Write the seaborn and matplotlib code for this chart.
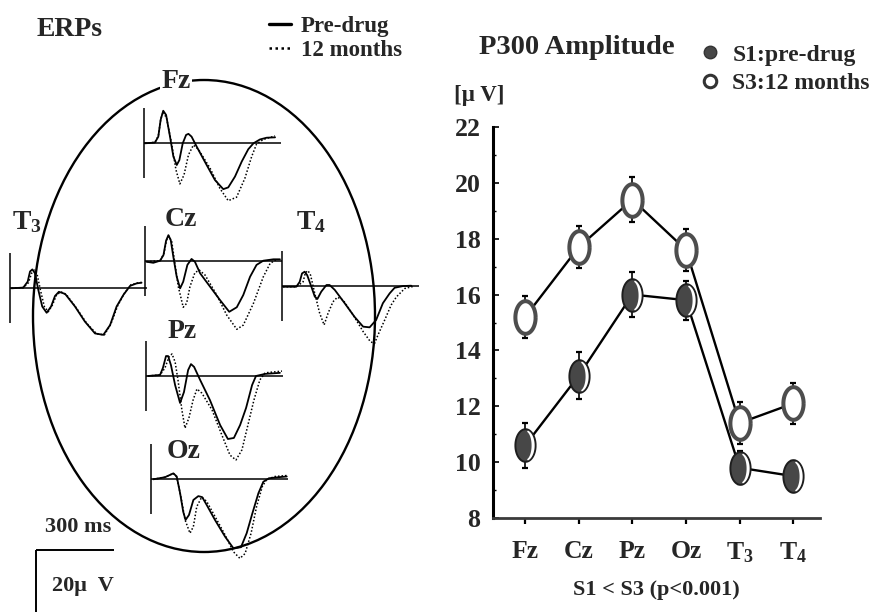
import numpy as np
import pandas as pd
import matplotlib
matplotlib.use("Agg")
import matplotlib.pyplot as plt
from matplotlib.path import Path
from matplotlib.patches import Ellipse
from matplotlib.lines import Line2D
import seaborn as sns

sns.set_theme(style="white")
plt.rcParams["font.family"] = ["Liberation Serif", "DejaVu Serif"]
plt.rcParams["font.weight"] = "bold"
plt.rcParams["mathtext.fontset"] = "custom"
plt.rcParams["mathtext.rm"] = "Liberation Serif:bold"
plt.rcParams["mathtext.it"] = "Liberation Serif:bold"
plt.rcParams["mathtext.bf"] = "Liberation Serif:bold"

# ---------------- P300 amplitude (group means, uV) ----------------
sites = ["Fz", "Cz", "Pz", "Oz", "T3", "T4"]
site_labels = ["Fz", "Cz", "Pz", "Oz", "T$_3$", "T$_4$"]
amp_pre = [10.6, 13.1, 16.0, 15.8, 9.8, 9.5]
sem_pre = [0.8, 0.85, 0.8, 0.7, 0.6, 0.55]
amp_12m = [15.2, 17.7, 19.4, 17.6, 11.4, 12.1]
sem_12m = [0.75, 0.75, 0.8, 0.75, 0.75, 0.75]

# ---------------- grand-average ERP waveforms (ms, uV; negative up) ----------------
fz_pre_ms = [4, 42, 55, 64, 74, 85, 100, 113, 126, 136, 149, 162, 171, 183, 203, 241, 273, 305, 324, 350, 376, 401, 421, 446, 472, 504]
fz_pre_uv = [0, -0.2, -1.9, -6.7, -9.3, -8.1, -1.9, 3.8, 6.2, 4.8, 0, -2.4, -2.7, -1.9, 1.0, 6.2, 10.5, 13.1, 12.6, 9.5, 5.2, 1.7, 0, -1.1, -1.6, -1.7]
fz_12m_ms = [4, 42, 55, 65, 74, 87, 106, 123, 138, 154, 171, 190, 209, 254, 292, 324, 356, 388, 414, 433, 459, 504]
fz_12m_uv = [0, -0.3, -2.1, -7.1, -9.0, -7.1, 0, 7.6, 11.6, 9.0, 3.3, 0.5, 1.7, 7.1, 12.9, 16.4, 15.4, 10.0, 3.8, 0.2, -1.1, -2.1]

cz_pre_ms = [6, 32, 58, 71, 81, 90, 99, 109, 122, 135, 147, 163, 179, 192, 212, 250, 288, 324, 353, 378, 404, 429, 455, 494, 519]
cz_pre_uv = [0.3, 0.6, 0, -1.6, -5.7, -7.3, -5.9, -1.1, 4.6, 7.9, 6.0, 1.2, -0.5, 0.3, 3.6, 7.4, 11.2, 14.6, 13.3, 9.8, 4.6, 1.2, 0, -0.4, -0.4]
cz_12m_ms = [6, 58, 73, 83, 92, 103, 115, 128, 147, 160, 173, 192, 209, 231, 276, 314, 353, 378, 417, 455, 481, 506]
cz_12m_uv = [0.3, 0, -2.1, -5.9, -7.0, -5.4, 0.8, 7.4, 13.3, 12.2, 7.4, 3.4, 2.7, 4.1, 9.8, 15.5, 19.6, 18.4, 12.2, 4.6, 0.8, -0.4]

pz_pre_ms = [8, 54, 65, 77, 85, 96, 112, 131, 146, 162, 173, 185, 208, 246, 285, 315, 338, 362, 385, 408, 423, 458, 515]
pz_pre_uv = [0, -0.3, -2.3, -5.7, -5.7, -3.1, 2.6, 7.7, 4.6, -1.7, -3.4, -2.6, 1.1, 6.9, 14.0, 18.0, 17.7, 14.0, 9.1, 2.6, 0, -0.6, -0.9]
pz_12m_ms = [8, 54, 73, 88, 100, 112, 123, 138, 150, 165, 181, 196, 215, 254, 292, 323, 346, 369, 392, 415, 438, 458, 523]
pz_12m_uv = [0, -0.3, -2.3, -5.4, -6.3, -4.0, 1.1, 9.7, 14.9, 12.0, 6.9, 3.7, 4.9, 9.7, 16.9, 22.6, 24.0, 21.1, 14.0, 6.9, 1.1, -0.9, -1.4]

oz_pre_ms = [9, 54, 86, 99, 112, 124, 133, 146, 163, 182, 197, 214, 246, 285, 317, 346, 368, 390, 413, 432, 454, 490, 522]
oz_pre_uv = [0, -0.6, -1.7, -0.8, 4.0, 9.3, 11.6, 10.2, 5.9, 4.8, 5.1, 7.3, 11.6, 16.4, 19.7, 19.4, 15.4, 9.7, 4.0, 0.7, -0.3, -0.6, -0.8]
oz_12m_ms = [9, 54, 86, 99, 115, 131, 150, 163, 176, 195, 214, 246, 285, 317, 342, 362, 385, 406, 428, 445, 477, 526]
oz_12m_uv = [0, -0.6, -1.7, -0.6, 5.0, 11.6, 15.4, 13.5, 7.8, 5.1, 6.3, 10.6, 15.9, 20.7, 22.6, 21.2, 15.4, 7.8, 2.1, 0, -0.8, -1.1]

t3_pre_ms = [6, 51, 68, 77, 86, 96, 109, 124, 141, 158, 173, 188, 212, 250, 288, 327, 359, 385, 410, 436, 462, 487, 506]
t3_pre_uv = [0, -0.2, -1.9, -4.8, -5.4, -4.3, 0.5, 5.2, 7.0, 5.2, 2.2, 1.0, 1.6, 5.2, 9.5, 12.9, 13.3, 10.5, 5.2, 1.9, -0.7, -1.4, -1.6]
t3_12m_ms = [6, 51, 71, 83, 94, 104, 117, 132, 147, 163, 179, 196, 218, 256, 295, 333, 363, 388, 414, 440, 465, 494, 513]
t3_12m_uv = [0, -0.2, -1.6, -4.3, -5.2, -4.1, 0.5, 5.2, 6.7, 4.8, 1.9, 1.0, 1.9, 5.7, 10.0, 13.0, 13.3, 10.2, 5.0, 1.4, -1.0, -1.6, -1.7]

t4_pre_ms = [4, 55, 68, 77, 87, 97, 113, 126, 136, 151, 171, 183, 203, 241, 279, 312, 337, 362, 388, 414, 433, 465, 497]
t4_pre_uv = [0.3, 0.3, -1.1, -3.5, -4.0, -3.0, 0.3, 3.1, 3.8, 1.7, -0.2, -0.2, 1.2, 5.0, 8.9, 11.7, 11.9, 9.8, 5.0, 2.2, 0.6, 0.1, 0]
t4_12m_ms = [4, 55, 81, 90, 100, 110, 126, 145, 162, 177, 196, 213, 235, 274, 312, 340, 356, 369, 395, 420, 440, 472, 510]
t4_12m_uv = [0.3, 0.3, -1.1, -3.7, -4.3, -3.0, 2.2, 7.9, 11.2, 7.9, 4.6, 3.3, 4.1, 8.4, 13.1, 16.0, 16.5, 14.1, 9.8, 5.5, 3.2, 0.8, 0.1]

EPOCH_MS = 525
SCALE_MS = 300
SCALE_UV = 20

# ---------------- figure ----------------
W, H = 871, 612
fig = plt.figure(figsize=(W / 100, H / 100), dpi=100)
fig.patch.set_facecolor("white")

# full-figure layer (pixel units) for the head outline and labels
ov = fig.add_axes([0, 0, 1, 1])
ov.set_xlim(0, W)
ov.set_ylim(H, 0)
ov.axis("off")
ov.add_patch(Ellipse((204, 316), 342, 472, fill=False, lw=1.7, ec="black"))

PX_PER_MS = 0.26
PX_PER_UV = 3.5
T0, T1 = -20, 560
V_TOP, V_BOT = -14, 26


def wave_axes(ox, oy):
    left = ox + T0 * PX_PER_MS
    top = oy + V_TOP * PX_PER_UV
    w = (T1 - T0) * PX_PER_MS
    h = (V_BOT - V_TOP) * PX_PER_UV
    a = fig.add_axes([left / W, 1 - (top + h) / H, w / W, h / H])
    a.set_xlim(T0, T1)
    a.set_ylim(V_BOT, V_TOP)  # negative up
    a.axis("off")
    a.patch.set_alpha(0)
    return a


electrodes = [
    ("Fz", (144, 143.3), fz_pre_ms, fz_pre_uv, fz_12m_ms, fz_12m_uv),
    ("Cz", (145, 260.7), cz_pre_ms, cz_pre_uv, cz_12m_ms, cz_12m_uv),
    ("T3", (10, 288.3), t3_pre_ms, t3_pre_uv, t3_12m_ms, t3_12m_uv),
    ("T4", (282, 285.7), t4_pre_ms, t4_pre_uv, t4_12m_ms, t4_12m_uv),
    ("Pz", (146, 376), pz_pre_ms, pz_pre_uv, pz_12m_ms, pz_12m_uv),
    ("Oz", (151, 479.3), oz_pre_ms, oz_pre_uv, oz_12m_ms, oz_12m_uv),
]

for name, (ox, oy), pm, pv, dm, dv in electrodes:
    a = wave_axes(ox, oy)
    a.hlines(0, 0, EPOCH_MS, color="black", lw=1.1, clip_on=False)
    a.vlines(0, -10, 10, color="black", lw=1.1, clip_on=False)
    sns.lineplot(x=dm, y=dv, ax=a, color="black", lw=1.1, linestyle=(0, (1, 1.3)),
                 estimator=None, sort=False)
    sns.lineplot(x=pm, y=pv, ax=a, color="black", lw=1.3, estimator=None, sort=False)
    for ln in a.lines:
        ln.set_clip_on(False)

# calibration bar
sa = wave_axes(36, 550)
sa.hlines(0, 0, SCALE_MS, color="black", lw=1.4, clip_on=False)
sa.vlines(0, 0, SCALE_UV, color="black", lw=1.4, clip_on=False)

lab = dict(fontsize=20, fontweight="bold", ha="center", va="center")
ov.text(176, 81, "Fz", bbox=dict(fc="white", ec="none", pad=0.5), **lab)
ov.text(181, 219, "Cz", **lab)
ov.text(182, 331, "Pz", **lab)
ov.text(184, 452, "Oz", **lab)
ov.text(27, 222, "T$_3$", **lab)
ov.text(311, 222, "T$_4$", **lab)
ov.text(70, 30, "ERPs", fontsize=20, fontweight="bold", ha="center", va="center")
ov.text(78, 527, "300 ms", fontsize=16, fontweight="bold", ha="center", va="center")
ov.text(83, 586, "20\u03bc  V", fontsize=16, fontweight="bold", ha="center", va="center")

fig.legend(handles=[Line2D([], [], color="black", lw=2.4),
                    Line2D([], [], color="black", lw=1.8, ls=(0, (1, 1.4)))],
           labels=["Pre-drug", "12 months"], loc="upper left",
           bbox_to_anchor=(269 / W, 1 - 16 / H), frameon=False, fontsize=16.5,
           handlelength=0.95, handletextpad=0.45, labelspacing=0.12,
           borderpad=0, borderaxespad=0)

# ---------------- P300 amplitude panel ----------------
ax = fig.add_axes([493 / W, 1 - 518 / H, (820 - 493) / W, (518 - 127) / H])
ax.patch.set_alpha(0)
pos = np.arange(len(sites))
df = pd.DataFrame({
    "pos": np.concatenate([pos, pos]),
    "amp": amp_pre + amp_12m,
    "session": ["S1:pre-drug"] * len(sites) + ["S3:12 months"] * len(sites),
})
sns.lineplot(data=df, x="pos", y="amp", hue="session",
             palette={"S1:pre-drug": "black", "S3:12 months": "black"},
             estimator=None, lw=1.7, legend=False, ax=ax, zorder=1)

ax.errorbar(pos, amp_pre, yerr=sem_pre, fmt="none", ecolor="black",
            elinewidth=1.2, capsize=2.5, capthick=1.6, zorder=2)
ax.errorbar(pos, amp_12m, yerr=sem_12m, fmt="none", ecolor="black",
            elinewidth=1.2, capsize=2.5, capthick=1.6, zorder=2)

# tall elliptical marker and a highlight crescent for the filled one
th = np.linspace(0, 2 * np.pi, 60)
ell = Path(np.column_stack([0.31 * np.cos(th), 0.5 * np.sin(th)]), closed=False)
ta = np.linspace(-np.pi / 2.4, np.pi / 2.4, 30)
outer = np.column_stack([0.27 * np.cos(ta), 0.46 * np.sin(ta)])
inner = np.column_stack([0.18 * np.cos(ta[::-1]), 0.42 * np.sin(ta[::-1])])
cres = Path(np.vstack([outer, inner, outer[:1]]), closed=False)

MS = 23.5
ax.plot(pos, amp_pre, ls="none", marker=ell, ms=MS, mfc="#474747", mec="#1e1e1e",
        mew=1.4, zorder=3)
ax.plot(pos, amp_pre, ls="none", marker=cres, ms=MS * 0.46 / 0.5, mfc="white",
        mec="none", zorder=4)
ax.plot(pos, amp_12m, ls="none", marker=ell, ms=MS, mfc="white", mec="#4d4d4d",
        mew=2.9, zorder=3)

ax.set_xlim(-0.6, 5.5)
ax.set_ylim(8, 22)
ax.set_yticks(range(8, 23, 2))
ax.set_yticks(range(9, 22, 2), minor=True)
ax.set_xticks(pos, site_labels)
ax.tick_params(axis="y", which="major", direction="in", length=4, width=1.2,
               pad=9, labelsize=18.5, left=True, color="black")
ax.tick_params(axis="y", which="minor", direction="in", length=2.5, width=1.0,
               left=True, color="black")
ax.tick_params(axis="x", direction="out", length=4, width=1.6, pad=12,
               labelsize=18.5, bottom=True, color="black")
for t in ax.get_xticklabels() + ax.get_yticklabels():
    t.set_fontweight("bold")
ax.spines["top"].set_visible(False)
ax.spines["right"].set_visible(False)
ax.spines["left"].set_linewidth(2.2)
ax.spines["left"].set_color("black")
ax.spines["bottom"].set_linewidth(2.0)
ax.spines["bottom"].set_color("#3a3a3a")
ax.set_xlabel("S1 < S3 (p<0.001)", fontsize=16, fontweight="bold", labelpad=11)
ax.set_ylabel("")
ax.grid(False)

fig.text(577 / W, 1 - 47 / H, "P300 Amplitude", fontsize=20.5, fontweight="bold",
         ha="center", va="center")
fig.text(479 / W, 1 - 96 / H, "[\u03bc V]", fontsize=16.5, fontweight="bold",
         ha="center", va="center")

fig.legend(handles=[Line2D([], [], ls="none", marker="o", ms=9, mfc="#474747",
                           mec="#333333", mew=1.0),
                    Line2D([], [], ls="none", marker="o", ms=9, mfc="white",
                           mec="#333333", mew=2.2)],
           labels=["S1:pre-drug", "S3:12 months"], loc="upper left",
           bbox_to_anchor=(698 / W, 1 - 44 / H), frameon=False, fontsize=17,
           handlelength=1.0, handletextpad=0.45, labelspacing=0.3,
           borderpad=0, borderaxespad=0)

fig.savefig("out.png", dpi=100, facecolor="white")
